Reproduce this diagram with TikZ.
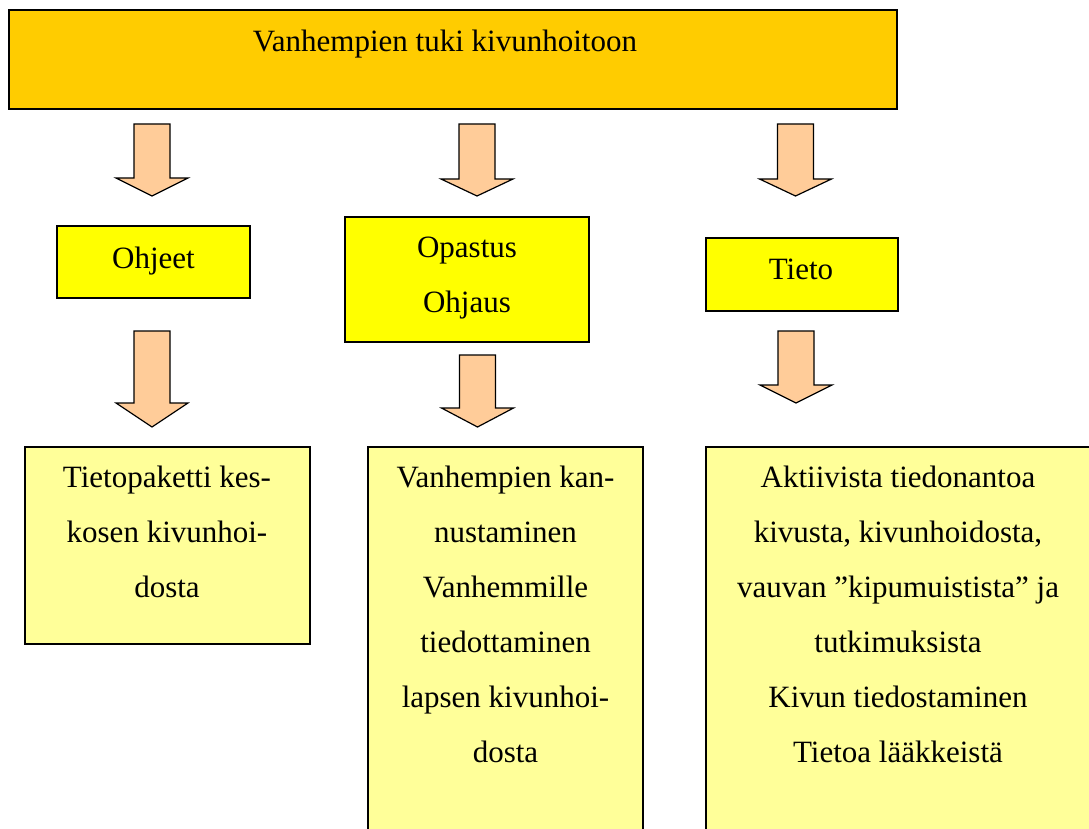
\documentclass[tikz,border=0pt]{standalone}
\usepackage{fontspec}
\setmainfont{Liberation Serif}
\begin{document}
\begin{tikzpicture}[x=1pt,y=-1pt,
  topbox/.style={draw=black, line width=1.6pt, fill=topfill, inner sep=0pt},
  midbox/.style={draw=black, line width=1.3pt, fill=midfill, inner sep=0pt},
  lowbox/.style={draw=black, line width=1.3pt, fill=lowfill, inner sep=0pt},
  label/.style={anchor=base, inner sep=0pt, font=\fontsize{31}{55}\selectfont},
  blockarrow/.style={draw=black, line width=1.2pt, fill=arrowfill, line join=miter}]
\definecolor{topfill}{HTML}{FFCC00}
\definecolor{midfill}{HTML}{FFFF00}
\definecolor{lowfill}{HTML}{FFFF99}
\definecolor{arrowfill}{HTML}{FFCC99}
\useasboundingbox (0,0) rectangle (1089,829);
\clip (0,0) rectangle (1089,829);

% block arrow: centre x, top y, wing y, tip y
\newcommand\blockarrow[4]{%
  \draw[blockarrow] (#1-18,#2) -- (#1+18,#2) -- (#1+18,#3) -- (#1+36,#3)
    -- (#1,#4) -- (#1-36,#3) -- (#1-18,#3) -- cycle;}

% heading
\node[topbox, minimum width=888pt, minimum height=99pt] (top) at (453,59.5) {};
\node[label] (toptext) at (445,52) {Vanhempien tuki kivunhoitoon};

% first row of arrows
\blockarrow{152}{124}{178}{196}
\blockarrow{477}{124}{179}{196}
\blockarrow{795.5}{124}{179}{196}

% middle row
\node[midbox, minimum width=193pt, minimum height=72pt] (ohjeet) at (153.5,262) {};
\node[label] (ohjeettext) at (153.5,268) {Ohjeet};
\node[midbox, minimum width=244pt, minimum height=125pt] (opastus) at (467,279.5) {};
\node[label] (opastustext) at (467,257) {\begin{tabular}[t]{@{}c@{}}Opastus\\Ohjaus\end{tabular}};
\node[midbox, minimum width=192pt, minimum height=73pt] (tieto) at (802,274.5) {};
\node[label] (tietotext) at (801,279) {Tieto};

% second row of arrows
\blockarrow{152}{331}{403}{427}
\blockarrow{477.5}{355}{408}{427}
\blockarrow{796}{331}{385}{403}

% lower row
\node[lowbox, minimum width=285pt, minimum height=197pt] (paketti) at (167.5,545.5) {};
\node[label] (pakettitext) at (167,487) {\begin{tabular}[t]{@{}c@{}}Tietopaketti kes-\\kosen kivunhoi-\\dosta\end{tabular}};
\node[lowbox, minimum width=275pt, minimum height=403pt] (kannustus) at (505.5,648.5) {};
\node[label] (kannustustext) at (505.5,487) {\begin{tabular}[t]{@{}c@{}}Vanhempien kan-\\nustaminen\\Vanhemmille\\tiedottaminen\\lapsen kivunhoi-\\dosta\end{tabular}};
\node[lowbox, minimum width=404pt, minimum height=403pt] (tiedonanto) at (908,648.5) {};
\node[label] (tiedonantotext) at (898,487) {\begin{tabular}[t]{@{}c@{}}Aktiivista tiedonantoa\\kivusta, kivunhoidosta,\\vauvan ”kipumuistista” ja\\tutkimuksista\\Kivun tiedostaminen\\Tietoa lääkkeistä\end{tabular}};
\end{tikzpicture}
\end{document}
